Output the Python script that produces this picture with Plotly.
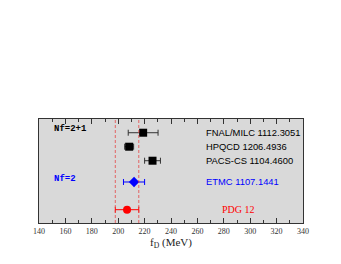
import plotly.graph_objects as go

labels = ["FNAL/MILC 1112.3051", "HPQCD 1206.4936", "PACS-CS 1104.4600", "ETMC 1107.1441", "PDG 12"]
fD = [218.9, 208.3, 226.0, 212.0, 206.7]
err = [11.3, 3.4, 6.0, 8.0, 8.9]
ypos = [6.45, 5.45, 4.45, 2.93, 0.95]
colors = ["black", "black", "black", "blue", "red"]
symbols = ["square", "square", "square", "diamond", "circle"]
band = [197.8, 215.6]
x_ticks = list(range(140, 341, 20))

fig = go.Figure()

for xb in band:
    fig.add_shape(type="line", x0=xb, x1=xb, y0=0, y1=1, yref="paper",
                  line=dict(color="rgba(230,60,60,0.75)", width=1, dash="3px,2px"))

for i in range(len(labels)):
    fig.add_trace(go.Scatter(
        x=[fD[i]], y=[ypos[i]], mode="markers",
        marker=dict(symbol=symbols[i], size=8, color=colors[i]),
        error_x=dict(type="data", array=[err[i]], color=colors[i] if i >= 3 else "#333333",
                     thickness=1, width=3),
        showlegend=False, hoverinfo="skip"))

for i in range(4):
    fig.add_annotation(x=265, y=ypos[i], xref="x", yref="y", text=labels[i],
                       showarrow=False, xanchor="left", yanchor="middle",
                       font=dict(family="Liberation Sans, Arial", size=9.4, color=colors[i]))
fig.add_annotation(x=291.3, y=ypos[4], text=labels[4], showarrow=False,
                   xanchor="center", yanchor="middle",
                   font=dict(family="Liberation Serif, Times New Roman", size=10, color="red"))

fig.add_annotation(x=150, y=6.75, text="<b>Nf=2+1</b>", showarrow=False,
                   xanchor="left", yanchor="middle",
                   font=dict(family="Liberation Mono, Courier New", size=9, color="black"))
fig.add_annotation(x=150, y=3.15, text="<b>Nf=2</b>", showarrow=False,
                   xanchor="left", yanchor="middle",
                   font=dict(family="Liberation Mono, Courier New", size=9, color="blue"))

fig.update_layout(
    width=333, height=256,
    margin=dict(l=31, r=38, t=111, b=41),
    paper_bgcolor="white", plot_bgcolor="#d9d9d9",
    xaxis=dict(range=[140, 340], tickvals=x_ticks, ticks="inside", ticklen=5,
               tickcolor="#333", showgrid=False, zeroline=False, mirror="ticks",
               showline=True, linecolor="#333", linewidth=1,
               tickfont=dict(family="Liberation Serif, Times New Roman", size=8, color="#333"),
               minor=dict(ticks="inside", ticklen=3, dtick=10, tickcolor="#333"),
               title=dict(text="f<sub>D</sub> (MeV)", standoff=2,
                          font=dict(family="Liberation Serif, Times New Roman", size=11, color="#222"))),
    yaxis=dict(range=[0, 7.43], showticklabels=False, ticks="", showgrid=False,
               zeroline=False, showline=True, linecolor="#333", linewidth=1, mirror=True),
)

fig.write_html("out.html")
